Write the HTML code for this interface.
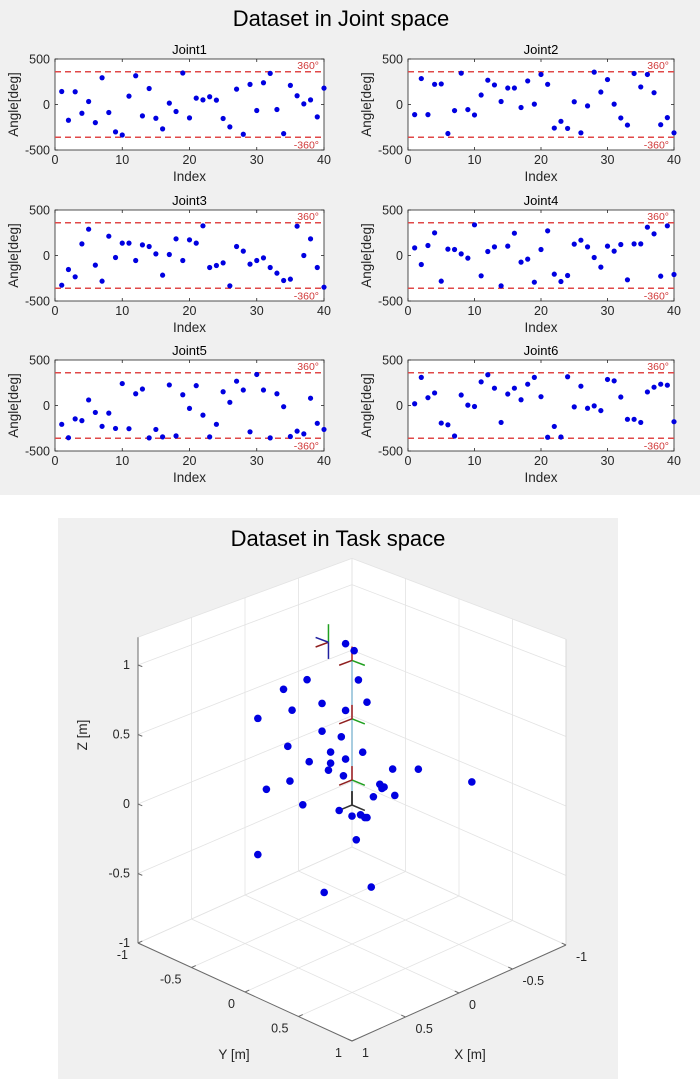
<!DOCTYPE html>
<html><head><meta charset="utf-8">
<style>
html,body{margin:0;padding:0;background:#fff;}
svg{display:block;font-family:"Liberation Sans",Arial,sans-serif;}
</style></head>
<body>
<svg id="fig" width="700" height="1079" viewBox="0 0 700 1079" xmlns="http://www.w3.org/2000/svg">
<rect x="0" y="0" width="700" height="495" fill="#f0f0f0"/>
<text x="341" y="26" font-size="22" text-anchor="middle" fill="#000">Dataset in Joint space</text>
<rect x="58" y="518" width="560" height="561" fill="#f0f0f0"/>
<g id="joints"></g>
<g id="task"></g>
<text x="338" y="546" font-size="22" text-anchor="middle" fill="#000">Dataset in Task space</text>
</svg>
<script>
const NS="http://www.w3.org/2000/svg";
const jointNames=["Joint1","Joint2","Joint3","Joint4","Joint5","Joint6"];
const xTicks=[0,10,20,30,40];
const yTicks=[500,0,-500];
const limitValues=[360,-360];
const joint1=[143,-173,140,-96,33,-199,294,-88,-301,-335,92,316,-125,176,-151,-268,15,-77,346,-147,70,51,85,48,-154,-246,169,-327,221,-66,239,342,-55,-320,210,96,7,51,-136,180];
const joint2=[-111,285,-111,222,226,-319,-67,344,-56,-115,104,267,215,33,181,181,-33,259,4,330,222,-259,-185,-263,30,-311,-15,356,137,274,4,-148,-226,341,193,330,130,-222,-144,-311];
const joint3=[-326,-154,-234,128,289,-106,-282,212,-22,136,136,-55,117,99,18,-216,11,183,-55,172,136,326,-132,-110,-81,-333,99,48,-95,-55,-26,-132,-194,-275,-260,322,0,183,-132,-348];
const joint4=[84,-99,110,249,-282,70,66,18,-29,337,-223,44,95,-333,103,245,-73,-40,-293,66,271,-205,-286,-220,125,168,95,-22,-128,103,48,121,-267,128,128,311,238,-227,326,-209];
const joint5=[-207,-354,-147,-166,61,-76,-229,-84,-252,241,-255,129,181,-356,-263,-345,226,-334,118,-32,218,-106,-345,-207,151,35,267,170,-289,341,170,-356,129,-13,-341,-282,-312,80,-196,-263];
const joint6=[19,309,86,138,-193,-212,-335,115,4,-11,260,338,190,-186,126,190,63,234,309,97,-349,-230,-346,316,-15,212,-30,-4,-56,286,271,93,-152,-152,-186,149,201,234,223,-178];
const jointData=[joint1,joint2,joint3,joint4,joint5,joint6];

function mk(tag,attrs,parent){const e=document.createElementNS(NS,tag);for(const k in attrs)e.setAttribute(k,attrs[k]);if(parent)parent.appendChild(e);return e;}

const jg=document.getElementById('joints');
const colX=[55,408],colW=[269,266],rowY=[59,210,360],plotH=91;
jointNames.forEach((name,k)=>{
  const L=colX[k%2],W=colW[k%2],T=rowY[Math.floor(k/2)],B=T+plotH;
  const sx=v=>L+(v-0)/40*W;
  const sy=v=>T+(500-v)/1000*plotH;
  const g=mk('g',{},jg);
  
  
  const bg=mk('rect',{x:L,y:T,width:W,height:plotH,fill:'#fff',stroke:'#262626','stroke-width':0.8},g);
  
  
  const t=mk('text',{x:L+W/2,y:T-5,'font-size':13,'text-anchor':'middle',fill:'#000'},g);t.textContent=name;
  
  
  xTicks.forEach(v=>{
    mk('line',{x1:sx(v),x2:sx(v),y1:B,y2:B-3,stroke:'#262626','stroke-width':0.8},g);
    mk('line',{x1:sx(v),x2:sx(v),y1:T,y2:T+3,stroke:'#262626','stroke-width':0.8},g);
    const tl=mk('text',{x:sx(v),y:B+14,'font-size':12.5,'text-anchor':'middle',fill:'#262626'},g);tl.textContent=v;
    
    
  });
  yTicks.forEach(v=>{
    mk('line',{x1:L,x2:L+3,y1:sy(v),y2:sy(v),stroke:'#262626','stroke-width':0.8},g);
    mk('line',{x1:L+W,x2:L+W-3,y1:sy(v),y2:sy(v),stroke:'#262626','stroke-width':0.8},g);
    const tl=mk('text',{x:L-5,y:sy(v)+4.5,'font-size':12.5,'text-anchor':'end',fill:'#262626'},g);tl.textContent=v;
    
    
  });
  const xl=mk('text',{x:L+W/2,y:B+31,'font-size':13.5,'text-anchor':'middle',fill:'#262626'},g);xl.textContent='Index';
  
  
  const cy=(T+B)/2;
  const yl=mk('text',{x:L-37,y:cy,'font-size':13.5,'text-anchor':'middle',fill:'#262626',transform:`rotate(-90 ${L-37} ${cy})`},g);yl.textContent='Angle[deg]';
  
  
  limitValues.forEach(v=>{
    const ln=mk('line',{x1:L,x2:L+W,y1:sy(v),y2:sy(v),stroke:'#e04848','stroke-width':1.4,'stroke-dasharray':'6,4'},g);
    
    
    const lt=mk('text',{x:L+W-5,y:v>0?sy(v)-2.5:sy(v)+11,'font-size':10.5,'text-anchor':'end',fill:'#d03838'},g);lt.textContent=v+'°';
    
    
  });
  jointData[k].forEach((v,i)=>{
    const c=mk('circle',{cx:sx(i+1),cy:sy(v),r:2.6,fill:'#0000e0'},g);
    
    
  });
});

// ---------- 3D task space ----------
const ptX=[0.03,-0.01,0.21,-0.03,0.32,0.14,-0.07,0.28,0.03,0.44,0.14,0.05,0.30,0.10,-0.05,0.20,0.10,0.03,0.11,-0.19,-0.31,0.04,0.29,-0.56,0.40,-0.13,-0.15,-0.14,-0.10,-0.20,0.23,0.06,0,-0.04,-0.06,-0.07,-0.02,0.44,-0.09,0.13];
const ptY=[-0.03,0.01,-0.21,0.03,-0.32,-0.14,0.07,-0.28,-0.03,-0.44,-0.14,-0.05,-0.30,-0.10,0.05,-0.20,-0.10,-0.03,-0.11,0.19,0.31,-0.04,-0.29,0.56,-0.40,0.13,0.15,0.14,0.10,0.20,-0.23,-0.06,0,0.04,0.06,0.07,0.02,-0.44,0.09,-0.13];
const ptZ=[1.16,1.11,0.90,0.90,0.83,0.73,0.74,0.68,0.68,0.62,0.53,0.49,0.42,0.38,0.38,0.31,0.30,0.33,0.25,0.26,0.26,0.21,0.17,0.17,0.11,0.15,0.13,0.12,0.06,0.07,0,-0.04,-0.08,-0.07,-0.09,-0.09,-0.25,-0.36,-0.59,-0.63];
const gridTicks=[-1,-0.5,0,0.5,1];
const zTicks=[-1,-0.5,0,0.5,1];
const zTop=1.2;
const frameZ=[0,0.18,0.62,1.04];

const tg=document.getElementById('task');
const C=[352,944],EX=[-107,48],EY=[107,49],EZ=-139;
function P(x,y,z){const f=1+0.028*(x+y);return [C[0]+x*EX[0]+y*EY[0], C[1]+x*EX[1]+y*EY[1]+(z+1)*EZ*f];}
function L3(a,b,attrs,name){const p=P(...a),q=P(...b);const e=mk('line',Object.assign({x1:p[0],y1:p[1],x2:q[0],y2:q[1]},attrs),tg);return e;}
const fl=[P(1,-1,-1),P(1,1,-1),P(-1,1,-1),P(-1,-1,-1)];
const floor=mk('polygon',{points:fl.map(p=>p.join(',')).join(' '),fill:'#fff'},tg);


const lw=[P(1,-1,-1),P(-1,-1,-1),P(-1,-1,zTop),P(1,-1,zTop)];
const lwall=mk('polygon',{points:lw.map(p=>p.join(',')).join(' '),fill:'#fff'},tg);


const rw=[P(-1,-1,-1),P(-1,1,-1),P(-1,1,zTop),P(-1,-1,zTop)];
const rwall=mk('polygon',{points:rw.map(p=>p.join(',')).join(' '),fill:'#fff'},tg);


const gs={stroke:'#e3e3e3','stroke-width':0.8};
gridTicks.forEach(v=>{
  L3([v,-1,-1],[v,1,-1],gs,'grid-line');
  L3([-1,v,-1],[1,v,-1],gs,'grid-line');
  L3([v,-1,-1],[v,-1,zTop],gs,'grid-line');
  L3([-1,v,-1],[-1,v,zTop],gs,'grid-line');
});
zTicks.forEach(v=>{
  L3([1,-1,v],[-1,-1,v],gs,'grid-line');
  L3([-1,-1,v],[-1,1,v],gs,'grid-line');
});
L3([1,-1,zTop],[-1,-1,zTop],gs,'box-edge');
L3([-1,-1,zTop],[-1,1,zTop],gs,'box-edge');
L3([-1,-1,-1],[-1,-1,zTop],gs,'box-edge');
const ax={stroke:'#6a6a6a','stroke-width':1};
L3([1,-1,-1],[1,1,-1],ax,'y-axis-line');
L3([1,1,-1],[-1,1,-1],ax,'x-axis-line');
L3([1,-1,-1],[1,-1,zTop],ax,'z-axis-line');
L3([-1,1,-1],[-1,1,zTop],{stroke:'#d8d8d8','stroke-width':1},'box-edge');
function T3(x,y,s,anchor,name,size){const t=mk('text',{x:x,y:y,'font-size':size||12.5,'text-anchor':anchor,fill:'#262626'},tg);t.textContent=s;return t;}
zTicks.forEach(v=>{const p=P(1,-1,v);L3([1,-1,v],[1,-0.96,v],ax,'z-tick');T3(p[0]-8,p[1]+4,v,'end','z-tick-label');});
gridTicks.forEach(v=>{const p=P(1,v,-1);L3([1,v,-1],[0.96,v,-1],ax,'y-tick');T3(p[0]-10,p[1]+16,v,'end','y-tick-label');});
gridTicks.forEach(v=>{const p=P(v,1,-1);L3([v,1,-1],[v,0.96,-1],ax,'x-tick');T3(p[0]+10,p[1]+16,v,'start','x-tick-label');});
T3(234,1059,'Y [m]','middle','y-axis-title',13.5);
T3(470,1059,'X [m]','middle','x-axis-title',13.5);
const zl=T3(87,735,'Z [m]','middle','z-axis-title',13.5);zl.setAttribute('transform','rotate(-90 87 735)');
L3([0,0,0],[0,0,0.1],{stroke:'#606060','stroke-width':2},'robot-base-link');
L3([0,0,0.1],[0,0,frameZ[3]],{stroke:'#a8cde0','stroke-width':2},'robot-link');
frameZ.forEach((z,i)=>{
  const base=i===0;
  L3([0,0,z],[0.12,0,z],{stroke:base?'#333':'#902020','stroke-width':1.5},'frame-axis');
  L3([0,0,z],[0,0.12,z],{stroke:base?'#333':'#20a020','stroke-width':1.5},'frame-axis');
  L3([0,0,z],[0,0,z+0.1],{stroke:base?'#333':'#b02020','stroke-width':1.5},'frame-axis');
});
L3([0.11,-0.11,1.17],[0.23,-0.11,1.17],{stroke:'#902020','stroke-width':1.5},'tool-frame-axis');
L3([0.11,-0.11,1.17],[0.11,-0.11,1.3],{stroke:'#20a020','stroke-width':1.5},'tool-frame-axis');
L3([0.11,-0.11,1.17],[0.11,-0.23,1.17],{stroke:'#2020a0','stroke-width':1.5},'tool-frame-axis');
L3([0.11,-0.11,1.17],[0.11,-0.11,1.05],{stroke:'#2020a0','stroke-width':1.5},'tool-frame-axis');
ptX.forEach((x,i)=>{
  const p=P(x,ptY[i],ptZ[i]);
  const c=mk('circle',{cx:p[0],cy:p[1],r:3.8,fill:'#0000e0'},tg);
  
  
});
</script>
</body></html>
